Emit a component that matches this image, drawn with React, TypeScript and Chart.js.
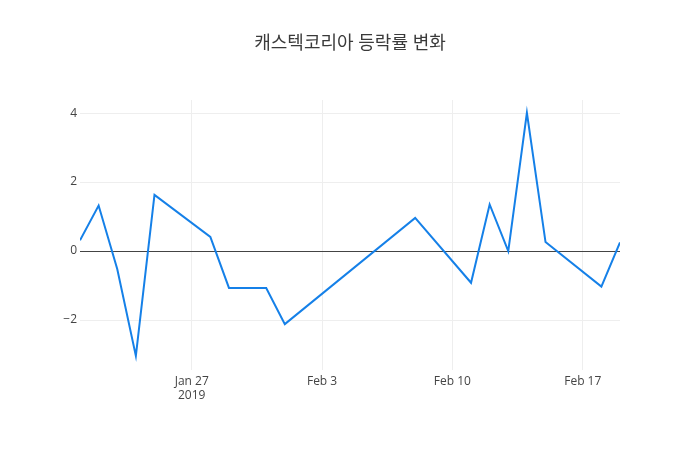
import { useEffect, useRef } from "react";
import { Chart, ChartConfiguration, Plugin, registerables } from "chart.js";

Chart.register(...registerables);

const TITLE = "캐스텍코리아 등락률 변화";

const dates = [
  "2019-01-21",
  "2019-01-22",
  "2019-01-23",
  "2019-01-24",
  "2019-01-25",
  "2019-01-28",
  "2019-01-29",
  "2019-01-31",
  "2019-02-01",
  "2019-02-08",
  "2019-02-11",
  "2019-02-12",
  "2019-02-13",
  "2019-02-14",
  "2019-02-15",
  "2019-02-18",
  "2019-02-19",
];

const changes = [
  0.31, 1.32, -0.52, -3.04, 1.63, 0.41, -1.07, -1.07, -2.12, 0.96, -0.92, 1.35,
  0.0, 4.01, 0.26, -1.03, 0.25,
];

const xTickDates = ["2019-01-27", "2019-02-03", "2019-02-10", "2019-02-17"];
const yTickValues = [-2, 0, 2, 4];

const MONTHS = ["Jan", "Feb", "Mar", "Apr", "May", "Jun", "Jul", "Aug", "Sep", "Oct", "Nov", "Dec"];
const DAY = 86400000;
const FONT = "'Open Sans', 'Noto Sans CJK KR', sans-serif";

const toDay = (s: string) => {
  const [y, m, d] = s.split("-").map(Number);
  return Date.UTC(y, m - 1, d) / DAY;
};

const titlePlugin: Plugin<"line"> = {
  id: "plotTitle",
  afterDraw(chart) {
    const { ctx } = chart;
    ctx.save();
    ctx.font = `18px ${FONT}`;
    ctx.fillStyle = "#3a3a3a";
    ctx.textAlign = "center";
    ctx.textBaseline = "middle";
    ctx.fillText(TITLE, 350, 44);
    ctx.restore();
  },
};

const App = () => {
  const canvasRef = useRef<HTMLCanvasElement | null>(null);
  const chartRef = useRef<Chart<"line"> | null>(null);

  useEffect(() => {
    document.body.style.margin = "0";
    if (!canvasRef.current) return;

    const points = dates.map((d, i) => ({ x: toDay(d), y: changes[i] }));
    const firstTick = toDay(xTickDates[0]);

    const config: ChartConfiguration<"line"> = {
      type: "line",
      data: {
        datasets: [
          {
            label: "등락률",
            data: points,
            borderColor: "#1580e8",
            borderWidth: 2,
            pointRadius: 0,
            tension: 0,
          },
        ],
      },
      options: {
        animation: false,
        responsive: false,
        layout: { padding: { top: 100, right: 80, left: 0, bottom: 0 } },
        plugins: {
          legend: { display: false },
          title: { display: false },
          tooltip: { enabled: false },
        },
        scales: {
          x: {
            type: "linear",
            min: toDay(dates[0]),
            max: toDay(dates[dates.length - 1]),
            afterBuildTicks(axis) {
              axis.ticks = xTickDates.map((d) => ({ value: toDay(d) }));
            },
            afterFit(axis) {
              axis.height = 80;
            },
            grid: { color: "#eee", drawTicks: false },
            border: { display: false },
            ticks: {
              padding: 4,
              color: "#444",
              font: { family: FONT, size: 12 },
              maxRotation: 0,
              callback(value) {
                const dt = new Date(Number(value) * DAY);
                const label = `${MONTHS[dt.getUTCMonth()]} ${dt.getUTCDate()}`;
                return Number(value) === firstTick ? [label, String(dt.getUTCFullYear())] : label;
              },
            },
          },
          y: {
            min: -3.45,
            max: 4.38,
            afterBuildTicks(axis) {
              axis.ticks = yTickValues.map((v) => ({ value: v }));
            },
            afterFit(axis) {
              axis.width = 80;
            },
            grid: {
              color: (c) => (c.tick && c.tick.value === 0 ? "#444" : "#eee"),
              drawTicks: false,
            },
            border: { display: false },
            ticks: {
              padding: 3,
              color: "#444",
              font: { family: FONT, size: 12 },
              callback(value) {
                const v = Number(value);
                return v < 0 ? `\u2212${Math.abs(v)}` : String(v);
              },
            },
          },
        },
      },
      plugins: [titlePlugin],
    };

    chartRef.current = new Chart(canvasRef.current, config);

    return () => {
      chartRef.current?.destroy();
    };
  }, []);

  return <canvas ref={canvasRef} width={700} height={450} style={{ display: "block" }} />;
};

export default App;
